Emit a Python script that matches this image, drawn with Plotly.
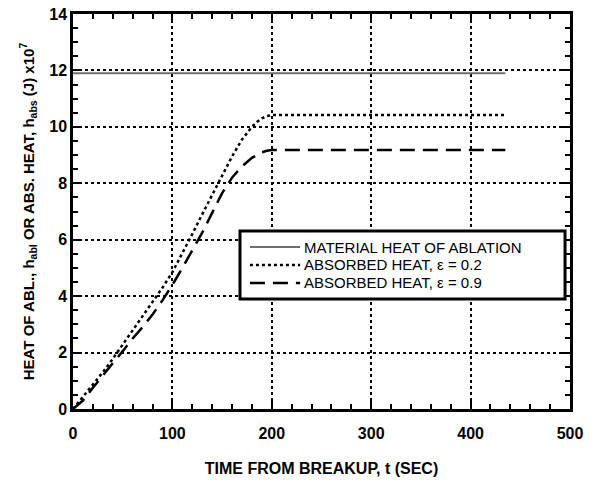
import plotly.graph_objects as go

# Time from breakup (s) and heat values (J x 1e7)
t_material = [0, 435]
h_material = [11.9, 11.9]

t_abs = [0, 10, 20, 30, 40, 50, 60, 70, 80, 90, 100, 110, 120, 130, 140,
         150, 160, 170, 180, 185, 190, 195, 200, 435]
h_abs_02 = [0, 0.42, 0.85, 1.3, 1.78, 2.28, 2.8, 3.3, 3.8, 4.3, 4.85, 5.5,
            6.2, 6.9, 7.6, 8.3, 8.95, 9.55, 10.0, 10.17, 10.3, 10.38, 10.42, 10.42]
h_abs_09 = [0, 0.3, 0.75, 1.2, 1.62, 2.05, 2.5, 2.9, 3.35, 3.85, 4.4, 5.0,
            5.6, 6.25, 6.95, 7.65, 8.2, 8.6, 8.9, 9.0, 9.1, 9.15, 9.18, 9.18]

legend_labels = ["MATERIAL HEAT OF ABLATION",
                 "ABSORBED HEAT, ε = 0.2",
                 "ABSORBED HEAT, ε = 0.9"]

FONT = "Liberation Sans, Arial, Helvetica, sans-serif"
styles = [dict(color="#6e6e6e", width=2.2, dash="solid"),
          dict(color="black", width=2.5, dash="dot"),
          dict(color="black", width=2.5, dash="15px,8px")]

fig = go.Figure()
fig.add_trace(go.Scatter(x=t_material, y=h_material, mode="lines",
                         name=legend_labels[0], line=styles[0]))
fig.add_trace(go.Scatter(x=t_abs, y=h_abs_02, mode="lines",
                         name=legend_labels[1], line=styles[1]))
fig.add_trace(go.Scatter(x=t_abs, y=h_abs_09, mode="lines",
                         name=legend_labels[2], line=styles[2]))

axis_common = dict(
    showline=True, linecolor="black", linewidth=2.5, mirror="ticks",
    ticks="inside", ticklen=8, tickwidth=2, tickcolor="black",
    showgrid=True, gridcolor="black", griddash="dot", gridwidth=1.5,
    zeroline=False, automargin=False,
    tickfont=dict(family=FONT, size=16, color="black", weight="bold"),
)

fig.update_xaxes(
    range=[0, 500], dtick=100, ticklabelstandoff=8,
    minor=dict(dtick=20, ticks="inside", ticklen=5, tickwidth=1.5,
               tickcolor="black", showgrid=False),
    title=dict(text="TIME FROM BREAKUP, t (SEC)", standoff=22,
               font=dict(family=FONT, size=16, color="black", weight="bold")),
    **axis_common)
fig.update_yaxes(
    range=[0, 14], dtick=2,
    minor=dict(dtick=0.5, ticks="inside", ticklen=5, tickwidth=1.5,
               tickcolor="black", showgrid=False),
    title=dict(text="HEAT OF ABL., h<sub>abl</sub> OR ABS. HEAT, h<sub>abs</sub> (J) x10<sup>7</sup>",
               standoff=12,
               font=dict(family=FONT, size=15, color="black", weight="bold")),
    **axis_common)

# Compact boxed key inside the plot area (paper coordinates)
box = dict(x0=0.336, x1=0.990, y0=0.2785, y1=0.4506)
row_y = [0.4101, 0.3646, 0.3190]
sample_x0, sample_x1, text_x = 0.356, 0.457, 0.461

shapes = [dict(type="rect", xref="paper", yref="paper", layer="above",
               fillcolor="white", line=dict(color="black", width=3), **box)]
annotations = []
for label, style, yy in zip(legend_labels, styles, row_y):
    shapes.append(dict(type="line", xref="paper", yref="paper", layer="above",
                       x0=sample_x0, x1=sample_x1, y0=yy, y1=yy,
                       line=dict(color=style["color"], width=style["width"],
                                 dash=style["dash"])))
    annotations.append(dict(xref="paper", yref="paper", x=text_x, y=yy,
                            xanchor="left", yanchor="middle", showarrow=False,
                            text=label,
                            font=dict(family=FONT, size=15, color="black")))

fig.update_layout(
    width=609, height=482,
    margin=dict(l=73, r=39, t=14, b=73),
    paper_bgcolor="white", plot_bgcolor="white",
    showlegend=False,
    shapes=shapes, annotations=annotations,
)

fig.write_html("out.html")
